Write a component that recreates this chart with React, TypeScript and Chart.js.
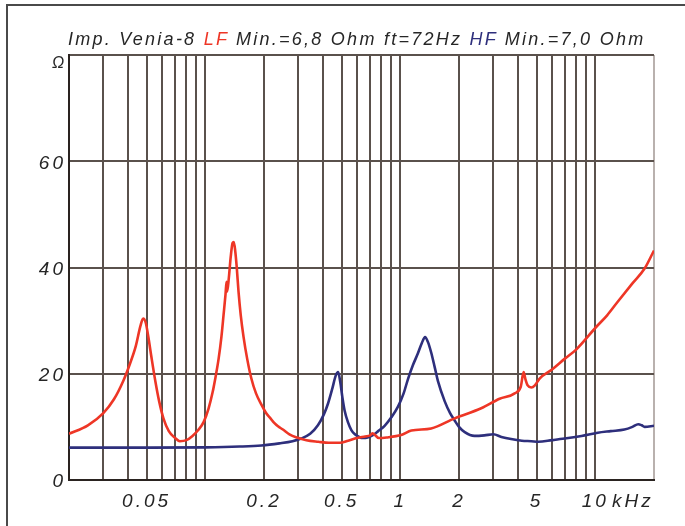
import React, { useEffect, useRef } from 'react';
import { Chart, registerables } from 'chart.js';

Chart.register(...registerables);

// LF impedance (Hz, Ohm)
const lfFreq = [20, 25, 30, 34, 38, 41, 44, 46.5, 48, 49.5, 51, 53, 55.5, 58, 61, 65, 70, 74, 80, 86, 92, 98, 104, 109, 113, 117, 121, 124, 127, 128.5, 129.5, 132, 135, 138, 140, 142.5, 145, 148, 152, 157, 164, 172, 182, 194, 205, 216, 225, 236, 250, 270, 295, 330, 380, 430, 490, 540, 600, 660, 700, 720, 745, 775, 850, 1010, 1140, 1440, 1900, 2600, 3230, 3860, 4150, 4290, 4380, 4500, 4700, 4900, 5180, 6000, 6960, 8000, 10100, 11500, 13000, 15500, 17900, 20000];
const lfOhm = [8.7, 10.3, 12.6, 15.2, 18.7, 21.8, 25.2, 29.0, 30.4, 29.6, 27, 23, 18.5, 14.8, 11.6, 9.2, 7.9, 7.3, 7.5, 8.3, 9.4, 10.9, 13.5, 16.5, 19.5, 22.8, 27, 31, 35, 37.3, 35.5, 38, 42, 44.6, 44.8, 43, 40, 35.5, 31, 27, 22.8, 19.2, 16.3, 14.2, 12.6, 11.6, 10.8, 10.1, 9.5, 8.6, 8.0, 7.5, 7.2, 7.0, 7.0, 7.4, 7.9, 8.2, 8.4, 8.8, 8.4, 7.9, 8.0, 8.45, 9.3, 9.7, 11.6, 13.5, 15.3, 16.3, 17.6, 20.3, 19, 17.8, 17.4, 17.8, 19.1, 20.8, 22.8, 24.6, 28.8, 31, 33.5, 37, 39.8, 43.2];

// HF impedance (Hz, Ohm)
const hfFreq = [20, 50, 100, 150, 194, 240, 280, 310, 345, 378, 405, 426, 448, 466, 480, 492, 505, 518, 540, 561, 585, 615, 644, 680, 720, 770, 831, 900, 973, 1040, 1095, 1160, 1230, 1290, 1340, 1385, 1440, 1500, 1560, 1690, 1800, 1900, 2000, 2140, 2400, 2700, 3000, 3300, 3700, 4200, 4700, 5100, 6000, 6960, 8500, 10300, 12000, 14100, 15500, 16600, 17300, 17900, 20000];
const hfOhm = [6.1, 6.1, 6.15, 6.3, 6.5, 6.9, 7.3, 7.8, 8.7, 10.3, 12.3, 14.4, 17.2, 19.6, 20.3, 18.5, 15.5, 13.1, 10.8, 9.4, 8.6, 8.1, 7.9, 8.0, 8.4, 9.2, 10.2, 11.8, 13.8, 16.3, 19.0, 21.6, 23.8, 25.8, 26.9, 26.0, 24.0, 21.3, 18.6, 14.8, 12.6, 11.2, 10.0, 9.0, 8.3, 8.4, 8.6, 8.1, 7.7, 7.4, 7.3, 7.2, 7.5, 7.8, 8.3, 8.9, 9.2, 9.5, 10.0, 10.5, 10.3, 10.0, 10.2];

// Axis ticks
const xGridValues = [20, 30, 40, 50, 60, 70, 80, 90, 100, 200, 300, 400, 500, 600, 700, 800, 900, 1000, 2000, 3000, 4000, 5000, 6000, 7000, 8000, 9000, 10000, 20000];
const xLabelValues = [50, 200, 500, 1000, 2000, 5000, 10000];
const xLabelTexts = ['0.05', '0.2', '0.5', '1', '2', '5', '10'];
const yTickValues = [0, 20, 40, 60, 80];
const yTickLabels = ['0', '20', '40', '60', ''];

const RED = '#ee3626';
const NAVY = '#2e2f7c';
const GRID = '#5a514c';
const TEXT = '#262626';
const FONT = '"Liberation Sans", Arial, sans-serif';

export default function App() {
  const ref = useRef<HTMLCanvasElement | null>(null);

  useEffect(() => {
    const canvas = ref.current;
    if (!canvas) return;
    const spacing = {
      id: 'spacing',
      beforeDraw(chart: any) {
        chart.ctx.letterSpacing = '3px';
      },
    };
    const chart = new Chart(canvas, {
      type: 'line',
      data: {
        datasets: [
          {
            label: 'LF',
            data: lfFreq.map((f, i) => ({ x: f, y: lfOhm[i] })),
            borderColor: RED,
            borderWidth: 2.6,
            pointRadius: 0,
            cubicInterpolationMode: 'monotone',
            fill: false,
          },
          {
            label: 'HF',
            data: hfFreq.map((f, i) => ({ x: f, y: hfOhm[i] })),
            borderColor: NAVY,
            borderWidth: 2.6,
            pointRadius: 0,
            cubicInterpolationMode: 'monotone',
            fill: false,
          },
        ],
      },
      options: {
        responsive: false,
        animation: false,
        devicePixelRatio: 1,
        layout: { padding: { left: 0, right: 31, top: 55, bottom: 0 } },
        plugins: { legend: { display: false }, tooltip: { enabled: false }, title: { display: false } },
        scales: {
          x: {
            type: 'logarithmic',
            min: 20,
            max: 20000,
            afterBuildTicks: (scale: any) => {
              scale.ticks = xGridValues.map((v) => ({ value: v }));
            },
            afterFit: (scale: any) => {
              scale.height = 46;
            },
            grid: {
              drawTicks: false,
              lineWidth: 2,
              color: (ctx: any) => (ctx.tick && ctx.tick.value === 20000 ? '#b9b1ae' : GRID),
            },
            border: { color: '#2a2320', width: 2 },
            ticks: {
              autoSkip: false,
              maxRotation: 0,
              padding: 10,
              color: TEXT,
              font: { family: FONT, size: 19, style: 'italic' },
              callback: (value: any) => {
                const i = xLabelValues.indexOf(Number(value));
                return i >= 0 ? xLabelTexts[i] : '';
              },
            },
          },
          y: {
            type: 'linear',
            min: 0,
            max: 80,
            afterBuildTicks: (scale: any) => {
              scale.ticks = yTickValues.map((v) => ({ value: v }));
            },
            afterFit: (scale: any) => {
              scale.width = 69;
            },
            grid: { drawTicks: false, lineWidth: 2, color: GRID },
            border: { color: '#2a2320', width: 2 },
            ticks: {
              padding: 3,
              labelOffset: 2,
              color: TEXT,
              font: { family: FONT, size: 19, style: 'italic' },
              callback: (value: any) => {
                const i = yTickValues.indexOf(Number(value));
                return i >= 0 ? yTickLabels[i] : '';
              },
            },
          },
        },
      },
      plugins: [spacing],
    } as any);
    return () => chart.destroy();
  }, []);

  return (
    <div style={{ position: 'fixed', left: 0, top: 0, width: 685, height: 526, overflow: 'hidden', background: '#fff' }}>
      <div
        style={{
          position: 'absolute',
          left: 6,
          top: 4,
          width: 900,
          height: 900,
          borderLeft: '2px solid #4a4a4a',
          borderTop: '2px solid #4a4a4a',
        }}
      />
      <canvas ref={ref} width={685} height={526} style={{ position: 'absolute', left: 0, top: 0, width: 685, height: 526 }} />
      <div
        style={{
          position: 'absolute',
          left: 68,
          top: 29,
          whiteSpace: 'nowrap',
          font: `italic 18px/20px ${FONT}`,
          letterSpacing: '2.25px',
          color: TEXT,
        }}
      >
        Imp. Venia-8 <span style={{ color: RED }}>LF</span> Min.=6,8 Ohm ft=72Hz <span style={{ color: NAVY }}>HF</span> Min.=7,0 Ohm
      </div>
      <div
        style={{
          position: 'absolute',
          left: 52,
          top: 54,
          font: `italic 16px/18px ${FONT}`,
          color: TEXT,
        }}
      >
        Ω
      </div>
      <div
        style={{
          position: 'absolute',
          left: 612,
          top: 491,
          font: `italic 19px/20px ${FONT}`,
          letterSpacing: '3px',
          color: TEXT,
        }}
      >
        kHz
      </div>
    </div>
  );
}
